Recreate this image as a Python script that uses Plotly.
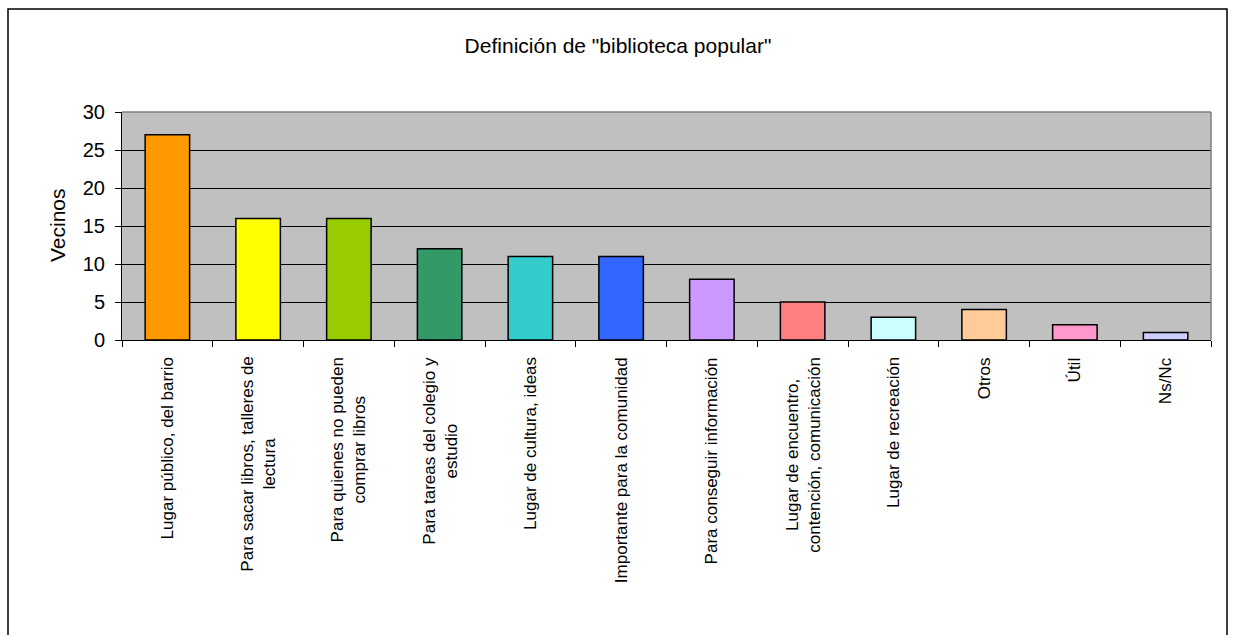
import plotly.graph_objects as go

categories = [
    "Lugar público, del barrio",
    "Para sacar libros, talleres de<br>lectura",
    "Para quienes no pueden<br>comprar libros",
    "Para tareas del colegio y<br>estudio",
    "Lugar de cultura, ideas",
    "Importante para la comunidad",
    "Para conseguir información",
    "Lugar de encuentro,<br>contención, comunicación",
    "Lugar de recreación",
    "Otros",
    "Útil",
    "Ns/Nc",
]
values = [27, 16, 16, 12, 11, 11, 8, 5, 3, 4, 2, 1]
colors = ["#FF9900", "#FFFF00", "#99CC00", "#339966", "#33CCCC", "#3366FF",
          "#CC99FF", "#FF8080", "#CCFFFF", "#FFCC99", "#FF99CC", "#CCCCFF"]
y_ticks = [0, 5, 10, 15, 20, 25, 30]

W, H = 1235, 635
L, R, T, B = 122, 24, 112, 295
pw, ph = W - L - R, H - T - B

def px(x):
    return (x - L) / pw

def py(y):
    return (H - B - y) / ph

fig = go.Figure()
fig.add_trace(go.Bar(
    x=categories, y=values,
    marker=dict(color=colors, line=dict(color="black", width=1.5)),
    width=0.49,
))

label_annotations = [
    dict(text=c, x=c, xref="x", y=py(355), yref="paper", textangle=-90,
         showarrow=False, xanchor="center", yanchor="top", align="center",
         font=dict(size=17, color="black"))
    for c in categories
]

fig.update_layout(
    width=W, height=H,
    margin=dict(l=L, r=R, t=T, b=B, pad=0),
    paper_bgcolor="white",
    plot_bgcolor="#C0C0C0",
    showlegend=False,
    font=dict(family="Liberation Sans, Arial, sans-serif", color="black"),
    title=dict(text='Definición de "biblioteca popular"', x=618 / W, xanchor="center",
               xref="container", y=(H - 46) / H, yanchor="middle", yref="container",
               font=dict(size=21, color="black")),
    xaxis=dict(
        showticklabels=False,
        showline=True, linecolor="black", linewidth=1,
        ticks="outside", ticklen=6, tickcolor="black", tickson="boundaries",
        showgrid=False, fixedrange=True,
    ),
    yaxis=dict(
        range=[0, 30], tickvals=y_ticks, tickfont=dict(size=20), ticklabelstandoff=6,
        showline=True, linecolor="black", linewidth=1,
        ticks="outside", ticklen=6, tickcolor="black",
        showgrid=True, gridcolor="black", gridwidth=1, zeroline=False,
    ),
    annotations=[dict(text="Vecinos", xref="paper", yref="paper",
                      x=px(57), y=py(225), textangle=-90, showarrow=False,
                      xanchor="center", yanchor="middle",
                      font=dict(size=21, color="black"))] + label_annotations,
    shapes=[
        dict(type="line", xref="paper", yref="paper", x0=0, x1=1, y0=1, y1=1,
             line=dict(color="#808080", width=1.5), layer="above"),
        dict(type="line", xref="paper", yref="paper", x0=1, x1=1, y0=0, y1=1,
             line=dict(color="#808080", width=1.5), layer="above"),
        dict(type="rect", xref="paper", yref="paper",
             x0=px(8), x1=px(1227), y0=py(640), y1=py(9),
             line=dict(color="black", width=1.5), layer="above"),
    ],
)

fig.write_html("out.html")
